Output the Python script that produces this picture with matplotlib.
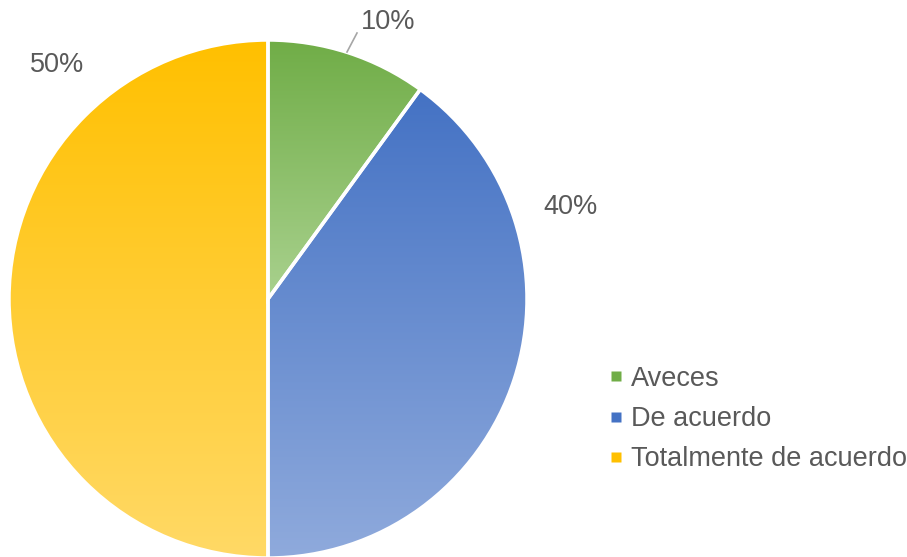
import numpy as np
import matplotlib
matplotlib.use("Agg")
import matplotlib.pyplot as plt
from matplotlib.colors import LinearSegmentedColormap
from matplotlib.lines import Line2D

plt.rcParams["font.family"] = ["Liberation Sans", "DejaVu Sans"]

# data
labels = ["Aveces", "De acuerdo", "Totalmente de acuerdo"]
values = [10, 40, 50]
pct_text = ["10%", "40%", "50%"]
# (top colour, bottom colour) of each slice's gradient
grad_colors = [("#70AD47", "#A9D18E"), ("#4472C4", "#8FAADC"), ("#FFC000", "#FFD966")]

W, H = 907, 557
fig = plt.figure(figsize=(W / 100, H / 100), dpi=100)
ax = fig.add_axes([0, 0, 1, 1])

cx, cy, r = 268, H - 299, 259
wedges, _ = ax.pie(values, startangle=90, counterclock=False, radius=r,
                   center=(cx, cy), frame=True,
                   wedgeprops=dict(edgecolor="white", linewidth=2.5))

# vertical gradient fill for every slice
for w, (top, bot) in zip(wedges, grad_colors):
    w.set_facecolor("none")
    ext = w.get_path().get_extents()
    cmap = LinearSegmentedColormap.from_list("g", [top, bot])
    grad = np.linspace(0, 1, 256).reshape(-1, 1)
    im = ax.imshow(grad, cmap=cmap, aspect="auto", origin="upper",
                   extent=(ext.x0, ext.x1, ext.y0, ext.y1), zorder=0.5,
                   interpolation="bilinear")
    im.set_clip_path(w)
    w.set_zorder(1)

# percentage labels
txt_col = "#595959"
fs = 19.5
ax.text(388, H - 22, pct_text[0], fontsize=fs, color=txt_col, ha="center", va="center")
ax.plot([347, 357], [H - 52, H - 33], color="#A6A6A6", lw=1.2)
ax.text(570, H - 207, pct_text[1], fontsize=fs, color=txt_col, ha="center", va="center")
ax.text(57, H - 65, pct_text[2], fontsize=fs, color=txt_col, ha="center", va="center")

# legend
handles = [Line2D([], [], marker="s", ls="none", markersize=6.5,
                  markerfacecolor=c[0], markeredgecolor="none") for c in grad_colors]
ax.legend(handles, labels, loc="center left", bbox_to_anchor=(608 / W, 1 - 419 / H),
          frameon=False, fontsize=fs, labelcolor=txt_col, handlelength=0.6,
          handletextpad=0.26, labelspacing=0.52, borderaxespad=0, borderpad=0)

ax.set_xlim(0, W)
ax.set_ylim(0, H)
ax.set_aspect("equal")
ax.axis("off")

fig.savefig("out.png", dpi=100)
